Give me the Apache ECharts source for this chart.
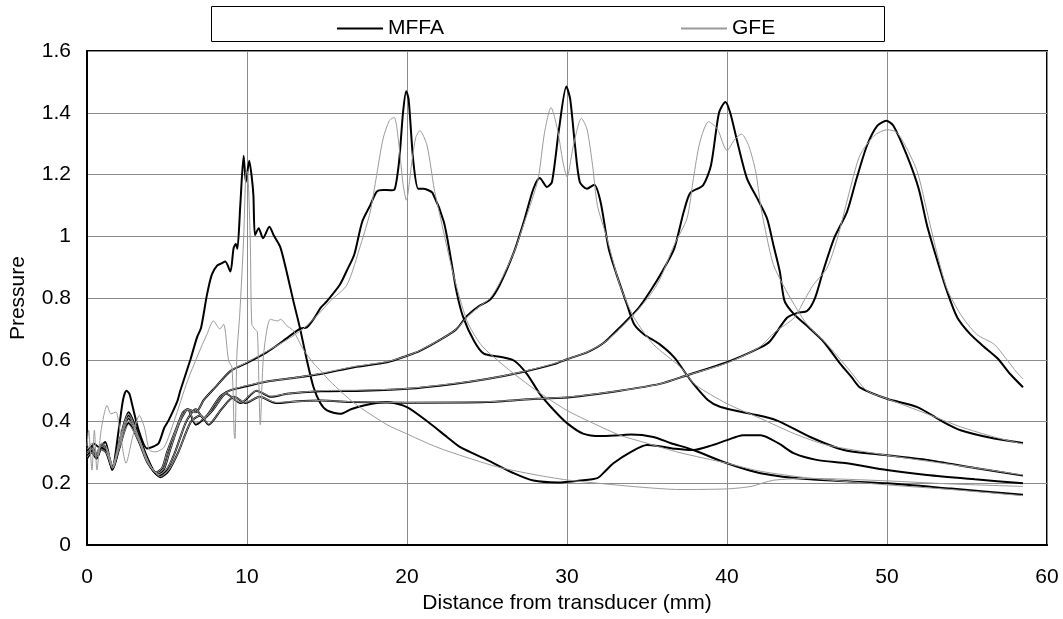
<!DOCTYPE html>
<html>
<head>
<meta charset="utf-8">
<script src="https://cdn.jsdelivr.net/npm/echarts@6/dist/echarts.min.js"></script>
<style>
  html, body { margin: 0; padding: 0; background: #fff; }
  #chart { width: 1063px; height: 619px; }
</style>
</head>
<body>
<div id="chart"></div>
<script>
// Axis ticks
const xTicks = [0, 10, 20, 30, 40, 50, 60];
const yTicks = [0, 0.2, 0.4, 0.6, 0.8, 1, 1.2, 1.4, 1.6];

// Pressure along the axis [distance (mm), pressure], one array per focal depth.
// MFFA results
const mffa10 = [[0,0.30],[0.1,0.297],[0.42,0.329],[0.73,0.318],[1.14,0.334],[1.56,0.243],[1.98,0.372],[2.25,0.47],[2.46,0.50],[2.65,0.49],[2.81,0.458],[3.23,0.372],[3.75,0.313],[4.1,0.318],[4.48,0.33],[4.83,0.38],[5.1,0.404],[5.66,0.468],[5.83,0.50],[6.46,0.60],[6.87,0.672],[7.13,0.704],[7.5,0.811],[7.8,0.876],[8.13,0.905],[8.4,0.912],[8.64,0.918],[8.96,0.886],[9.16,0.961],[9.3,0.975],[9.4,0.96],[9.58,1.10],[9.79,1.261],[9.93,1.176],[10.14,1.245],[10.3,1.19],[10.4,1.133],[10.5,1.004],[10.73,1.026],[11.0,0.994],[11.4,1.031],[11.66,1.004],[12.08,0.965],[12.5,0.88],[12.9,0.79],[13.3,0.705],[13.75,0.597],[14.16,0.511],[14.58,0.46],[15.0,0.436],[15.83,0.425],[16.5,0.44],[17.3,0.452],[18.3,0.462],[18.75,0.463],[20,0.447],[21.46,0.393],[22.5,0.35],[23.3,0.318],[25,0.276],[26.7,0.232],[27.9,0.209],[29.4,0.203],[30.8,0.209],[31.9,0.217],[32.4,0.24],[32.9,0.265],[34,0.302],[35,0.324],[35.8,0.32],[36.8,0.312],[37.9,0.308],[39,0.322],[40,0.34],[41,0.356],[42.1,0.356],[43.2,0.33],[44.2,0.297],[45.6,0.276],[47.5,0.265],[50,0.243],[52.5,0.227],[55.5,0.213],[58.5,0.2]];
const mffa20 = [[0,0.30],[0.3,0.32],[0.6,0.295],[0.9,0.325],[1.2,0.315],[1.6,0.255],[2.0,0.33],[2.6,0.43],[3.2,0.36],[3.8,0.28],[4.3,0.235],[4.7,0.25],[5.0,0.30],[5.6,0.38],[6.0,0.43],[6.3,0.44],[6.8,0.43],[7.3,0.47],[8.0,0.51],[9.0,0.565],[10,0.59],[11.25,0.625],[12.1,0.655],[13.3,0.70],[13.75,0.706],[14.2,0.735],[14.6,0.768],[15,0.79],[15.8,0.843],[16.25,0.89],[16.7,0.94],[17.2,1.047],[17.7,1.10],[18.1,1.144],[18.5,1.15],[18.96,1.149],[19.2,1.15],[19.5,1.24],[19.75,1.40],[19.95,1.47],[20.1,1.444],[20.4,1.24],[20.7,1.154],[21,1.154],[21.3,1.15],[21.6,1.14],[22.3,1.047],[22.7,0.94],[23.1,0.82],[23.5,0.74],[24.2,0.66],[24.8,0.62],[25.8,0.61],[26.7,0.597],[27.5,0.554],[28.3,0.49],[29.2,0.436],[30,0.395],[31,0.361],[32.1,0.353],[33.3,0.356],[34,0.358],[35.4,0.35],[36.5,0.33],[37.9,0.308],[40,0.265],[42.1,0.233],[45.2,0.213],[50,0.2],[54,0.183],[58.5,0.163]];
const mffa30 = [[0,0.29],[0.3,0.31],[0.6,0.29],[0.9,0.32],[1.2,0.31],[1.6,0.25],[2.0,0.32],[2.6,0.42],[3.2,0.35],[3.8,0.27],[4.4,0.23],[4.8,0.245],[5.2,0.31],[5.8,0.40],[6.3,0.44],[6.8,0.39],[7.5,0.42],[8.3,0.48],[8.9,0.50],[9.6,0.51],[11.25,0.53],[13,0.542],[14.6,0.554],[16.7,0.576],[18.75,0.592],[20,0.613],[20.8,0.629],[22.3,0.672],[23.1,0.70],[23.75,0.742],[24.5,0.774],[25.2,0.795],[25.8,0.843],[26.7,0.951],[27.3,1.047],[27.9,1.154],[28.3,1.189],[28.75,1.16],[29.06,1.176],[29.5,1.347],[29.96,1.485],[30.2,1.444],[30.5,1.294],[30.8,1.176],[31.25,1.154],[31.7,1.167],[32.1,1.111],[32.6,0.961],[33.1,0.876],[33.75,0.779],[34.2,0.715],[34.8,0.683],[35.8,0.65],[36.7,0.608],[37.5,0.55],[37.9,0.522],[38.8,0.47],[39.6,0.447],[41.5,0.425],[43.1,0.404],[45.2,0.35],[47.3,0.308],[50,0.291],[52.5,0.276],[55.5,0.25],[58.5,0.225]];
const mffa40 = [[0,0.29],[0.3,0.305],[0.6,0.285],[0.9,0.315],[1.2,0.305],[1.6,0.25],[2.0,0.315],[2.6,0.41],[3.2,0.345],[3.8,0.27],[4.5,0.225],[5.0,0.245],[5.5,0.30],[6.2,0.40],[6.8,0.44],[7.3,0.41],[7.9,0.44],[8.7,0.49],[9.6,0.46],[10.6,0.50],[11.5,0.48],[12.5,0.49],[14.6,0.498],[17.3,0.50],[20,0.506],[22.9,0.522],[25,0.538],[27.1,0.559],[29.2,0.586],[30,0.602],[31.25,0.624],[32.3,0.655],[33.3,0.705],[34.4,0.763],[35.2,0.822],[36,0.89],[36.7,0.96],[37.3,1.08],[37.7,1.14],[38.5,1.165],[39,1.23],[39.5,1.40],[39.9,1.435],[40.2,1.40],[40.7,1.294],[41.25,1.187],[41.9,1.122],[42.5,1.058],[42.9,0.972],[43.3,0.886],[43.6,0.79],[44.2,0.747],[45,0.71],[46,0.661],[47.1,0.586],[47.8,0.543],[48.3,0.511],[50,0.474],[51.9,0.447],[53.5,0.399],[54.6,0.372],[56.7,0.345],[58.5,0.331]];
const mffa50 = [[0,0.28],[0.3,0.30],[0.6,0.28],[0.9,0.31],[1.2,0.30],[1.6,0.245],[2.0,0.31],[2.6,0.395],[3.2,0.34],[3.8,0.265],[4.6,0.22],[5.1,0.24],[5.7,0.30],[6.5,0.40],[7.1,0.42],[7.6,0.39],[8.4,0.44],[9.2,0.48],[9.9,0.46],[10.8,0.48],[11.8,0.46],[13,0.465],[14.6,0.468],[16.7,0.463],[20,0.461],[25,0.463],[28.1,0.474],[30.2,0.479],[33.3,0.50],[35.8,0.522],[37.5,0.55],[40,0.592],[42.1,0.64],[42.7,0.661],[43.75,0.736],[44.4,0.752],[45,0.758],[45.5,0.80],[46,0.886],[46.7,0.994],[47.5,1.079],[48.1,1.187],[48.75,1.294],[49.4,1.358],[49.96,1.374],[50.4,1.358],[51.25,1.261],[51.98,1.154],[52.5,1.036],[53.1,0.929],[53.75,0.822],[54.4,0.736],[55.2,0.683],[56,0.645],[56.9,0.605],[57.7,0.554],[58.5,0.511]];

// GFE results
const gfe10 = [[0,0.32],[0.1,0.372],[0.31,0.243],[0.46,0.372],[0.62,0.243],[0.85,0.36],[1.05,0.42],[1.25,0.452],[1.5,0.425],[1.81,0.431],[2.02,0.383],[2.44,0.265],[2.85,0.35],[3.27,0.42],[3.58,0.383],[3.9,0.308],[4.3,0.302],[4.83,0.318],[5.46,0.404],[6.29,0.533],[7.13,0.64],[7.5,0.683],[7.9,0.726],[8.3,0.70],[8.54,0.715],[8.85,0.597],[9.06,0.576],[9.2,0.36],[9.25,0.345],[9.37,0.618],[9.55,0.75],[9.79,0.994],[9.93,1.208],[10.02,1.21],[10.2,0.994],[10.3,0.715],[10.5,0.699],[10.65,0.69],[10.83,0.39],[11.04,0.618],[11.46,0.731],[11.9,0.726],[12.1,0.731],[12.5,0.71],[12.9,0.694],[13.5,0.635],[14.2,0.586],[14.6,0.565],[15.2,0.53],[16.7,0.46],[18.75,0.39],[20,0.36],[21.5,0.325],[22.5,0.305],[25.6,0.254],[28,0.228],[30,0.211],[33,0.195],[35,0.186],[37,0.18],[40,0.182],[41.5,0.19],[42.9,0.21],[45.2,0.216],[50,0.208],[54,0.198],[58.5,0.19]];
const gfe20 = [[0,0.31],[0.3,0.33],[0.6,0.30],[0.9,0.33],[1.2,0.32],[1.6,0.26],[2.0,0.335],[2.6,0.425],[3.2,0.355],[3.8,0.275],[4.3,0.235],[4.7,0.25],[5.0,0.30],[5.6,0.38],[6.0,0.43],[6.3,0.44],[6.8,0.43],[7.3,0.47],[8.0,0.51],[9.0,0.565],[10,0.592],[11.25,0.628],[12.5,0.665],[13.5,0.70],[14.5,0.75],[15.2,0.79],[16.25,0.843],[17.1,0.972],[17.7,1.079],[18.1,1.197],[18.5,1.315],[18.9,1.375],[19.2,1.385],[19.5,1.294],[19.75,1.17],[19.96,1.117],[20.3,1.24],[20.55,1.32],[20.8,1.342],[21.25,1.294],[21.7,1.154],[22.1,1.058],[22.9,0.876],[23.75,0.726],[24.6,0.65],[25.4,0.61],[26.7,0.554],[28.1,0.5],[30,0.436],[31.7,0.393],[33.3,0.356],[35,0.33],[37,0.3],[40,0.265],[42,0.24],[45,0.218],[50,0.195],[54,0.18],[58.5,0.16]];
const gfe30 = [[0,0.30],[0.3,0.315],[0.6,0.295],[0.9,0.325],[1.2,0.315],[1.6,0.255],[2.0,0.325],[2.6,0.415],[3.2,0.35],[3.8,0.27],[4.4,0.232],[4.8,0.247],[5.2,0.31],[5.8,0.40],[6.3,0.44],[6.8,0.395],[7.5,0.42],[8.3,0.48],[8.9,0.50],[9.6,0.512],[11.25,0.53],[13,0.542],[14.6,0.556],[16.7,0.578],[18.75,0.594],[20,0.613],[20.8,0.63],[22.3,0.672],[23.1,0.70],[23.75,0.738],[24.5,0.772],[25.2,0.80],[25.8,0.85],[26.7,0.95],[27.3,1.04],[27.7,1.10],[28.2,1.187],[28.6,1.337],[29.0,1.417],[29.4,1.347],[29.75,1.24],[30,1.192],[30.4,1.294],[30.9,1.382],[31.25,1.347],[31.6,1.229],[31.9,1.10],[32.5,0.994],[33.3,0.843],[34.2,0.736],[35.4,0.65],[37.1,0.576],[38,0.52],[40,0.458],[42.1,0.41],[44.2,0.361],[46.25,0.324],[50,0.291],[52.5,0.272],[55.5,0.25],[58.5,0.227]];
const gfe40 = [[0,0.295],[0.3,0.31],[0.6,0.29],[0.9,0.32],[1.2,0.31],[1.6,0.252],[2.0,0.32],[2.6,0.405],[3.2,0.345],[3.8,0.27],[4.5,0.228],[5.0,0.247],[5.5,0.30],[6.2,0.40],[6.8,0.44],[7.3,0.41],[7.9,0.44],[8.7,0.49],[9.6,0.462],[10.6,0.50],[11.5,0.482],[12.5,0.49],[14.6,0.5],[17.3,0.502],[20,0.507],[22.9,0.523],[25,0.538],[27.1,0.56],[29.2,0.588],[30,0.602],[31.25,0.625],[32.3,0.655],[33.3,0.70],[34.4,0.76],[35.2,0.81],[35.8,0.86],[36.7,0.972],[37.5,1.058],[37.9,1.187],[38.3,1.304],[38.85,1.371],[39.4,1.347],[40,1.278],[40.5,1.315],[40.9,1.331],[41.35,1.294],[41.8,1.208],[42.1,1.10],[42.5,0.994],[42.9,0.908],[43.5,0.843],[44.2,0.779],[45,0.715],[46.25,0.65],[47.5,0.576],[48.75,0.5],[50,0.474],[52.5,0.425],[54.6,0.383],[56.7,0.35],[58.5,0.327]];
const gfe50 = [[0,0.285],[0.3,0.30],[0.6,0.285],[0.9,0.31],[1.2,0.30],[1.6,0.248],[2.0,0.31],[2.6,0.39],[3.2,0.34],[3.8,0.265],[4.6,0.222],[5.1,0.242],[5.7,0.30],[6.5,0.40],[7.1,0.42],[7.6,0.392],[8.4,0.44],[9.2,0.48],[9.9,0.462],[10.8,0.48],[11.8,0.462],[13,0.465],[14.6,0.468],[16.7,0.464],[20,0.462],[25,0.464],[28.1,0.474],[30.2,0.48],[33.3,0.50],[35.8,0.522],[37.5,0.55],[40,0.59],[42,0.64],[43,0.69],[44.2,0.736],[44.8,0.79],[45.4,0.843],[46.25,0.897],[46.9,0.994],[47.7,1.154],[48.3,1.261],[49.2,1.326],[50,1.345],[50.6,1.337],[51.25,1.283],[51.9,1.208],[52.5,1.08],[53.1,0.95],[53.75,0.83],[54.6,0.747],[55.6,0.683],[56.7,0.65],[57.5,0.60],[58.1,0.56],[58.5,0.538]];

const mffaSets = [mffa10, mffa20, mffa30, mffa40, mffa50];
const gfeSets = [gfe10, gfe20, gfe30, gfe40, gfe50];

const FONT = 'Liberation Sans, Arial, sans-serif';
const TEXT = { fontFamily: FONT, fontSize: 21, color: '#000' };

const lineSeries = (name, data, color, width, z) => ({
  name, type: 'line', data, z,
  showSymbol: false, symbol: 'none', smooth: 0.25,
  lineStyle: { color, width }, itemStyle: { color },
  emphasis: { disabled: true }
});

const series = [
  ...mffaSets.map(d => lineSeries('MFFA', d, '#000', 2, 2)),
  ...gfeSets.map(d => lineSeries('GFE', d, '#9a9a9a', 1, 3))
];

const chart = echarts.init(document.getElementById('chart'), null, { renderer: 'canvas' });
chart.setOption({
  animation: false,
  backgroundColor: '#fff',
  grid: { left: 87, right: 16, top: 51, bottom: 70, show: true, borderColor: '#000', borderWidth: 2 },
  legend: [
    { data: ['MFFA'], left: 332, top: 13, icon: 'rect', itemWidth: 46, itemHeight: 2,
      textStyle: { ...TEXT }, selectedMode: false },
    { data: ['GFE'], left: 676, top: 13, icon: 'rect', itemWidth: 46, itemHeight: 2,
      textStyle: { ...TEXT }, selectedMode: false }
  ],
  graphic: [
    { type: 'rect', shape: { x: 211.5, y: 6.5, width: 673, height: 35 },
      style: { fill: 'none', stroke: '#000', lineWidth: 1 }, silent: true }
  ],
  xAxis: {
    type: 'value', min: xTicks[0], max: xTicks[xTicks.length - 1], interval: 10,
    name: 'Distance from transducer (mm)', nameLocation: 'middle', nameGap: 43,
    nameTextStyle: { ...TEXT },
    axisLine: { show: true, lineStyle: { color: '#000', width: 2 } },
    axisTick: { show: false },
    axisLabel: { ...TEXT, margin: 22 },
    splitLine: { show: true, lineStyle: { color: '#8c8c8c', width: 1 } }
  },
  yAxis: {
    type: 'value', min: yTicks[0], max: yTicks[yTicks.length - 1], interval: 0.2,
    name: 'Pressure', nameLocation: 'middle', nameGap: 58,
    nameTextStyle: { ...TEXT },
    axisLine: { show: true, lineStyle: { color: '#000', width: 2 } },
    axisTick: { show: false },
    axisLabel: { ...TEXT, margin: 16, formatter: v => String(+v.toFixed(1)) },
    splitLine: { show: true, lineStyle: { color: '#8c8c8c', width: 1 } }
  },
  series
});
</script>
</body>
</html>
